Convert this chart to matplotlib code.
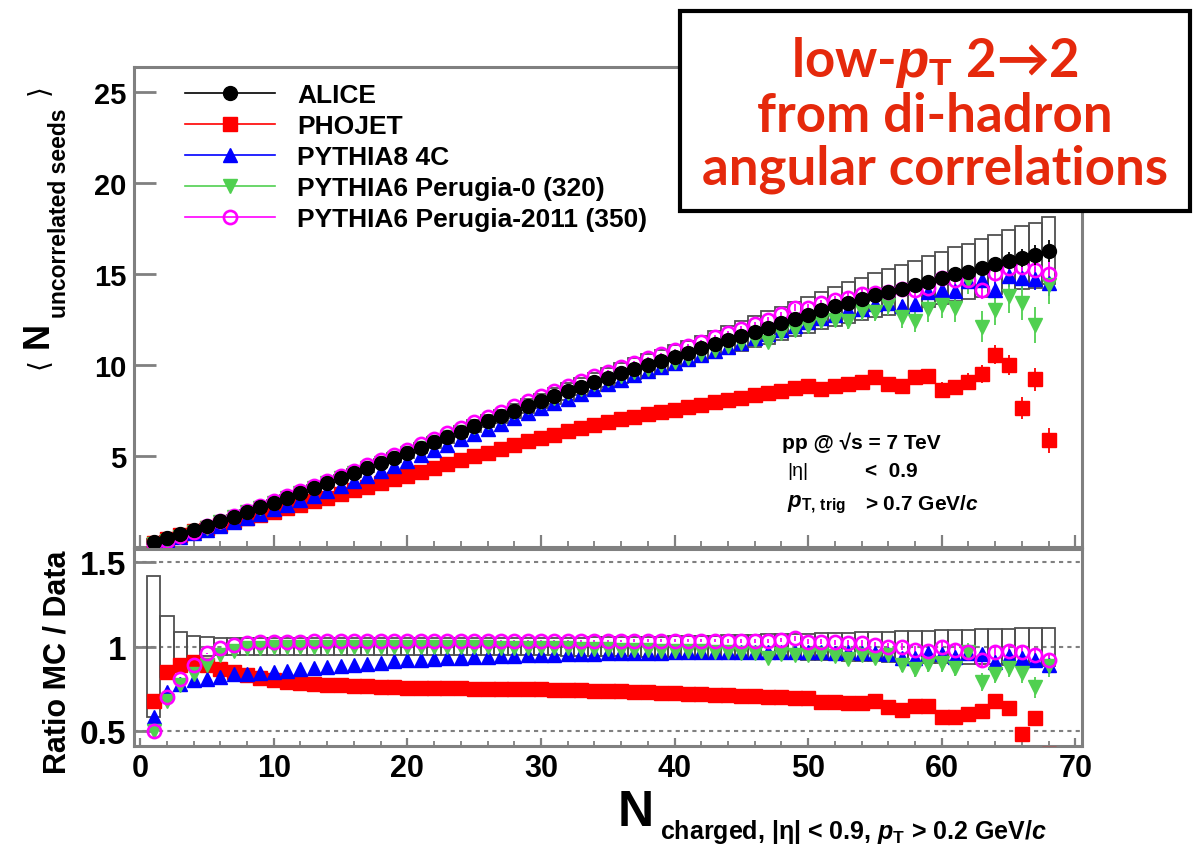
import numpy as np
import matplotlib
matplotlib.use('Agg')
import matplotlib.pyplot as plt
from matplotlib.lines import Line2D
from matplotlib.patches import Rectangle
from matplotlib.ticker import MultipleLocator, FixedLocator

plt.rcParams['font.family'] = ['Liberation Sans', 'DejaVu Sans']
plt.rcParams['font.weight'] = 'bold'
plt.rcParams['mathtext.fontset'] = 'custom'
plt.rcParams['mathtext.rm'] = 'Liberation Sans:bold'
plt.rcParams['mathtext.it'] = 'Liberation Sans:italic:bold'
plt.rcParams['mathtext.bf'] = 'Liberation Sans:bold'
plt.rcParams['mathtext.fallback'] = 'stixsans'

# ---- data ----
n_charged = np.arange(1, 69)

alice = [
    0.30, 0.50, 0.72, 0.95, 1.18, 1.42, 1.67, 1.92, 2.18, 2.44,
    2.70, 2.97, 3.24, 3.51, 3.78, 4.06, 4.34, 4.62, 4.90, 5.18,
    5.47, 5.76, 6.05, 6.34, 6.63, 6.92, 7.20, 7.48, 7.76, 8.04,
    8.30, 8.56, 8.82, 9.07, 9.32, 9.56, 9.80, 10.02, 10.24, 10.45,
    10.68, 10.92, 11.15, 11.38, 11.61, 11.84, 12.07, 12.30, 12.54, 12.78,
    13.01, 13.24, 13.44, 13.64, 13.84, 14.03, 14.20, 14.40, 14.60, 14.80,
    15.00, 15.15, 15.35, 15.55, 15.75, 15.90, 16.05, 16.30]

alice_stat = [
    0.01, 0.01, 0.01, 0.01, 0.01, 0.01, 0.01, 0.01, 0.01, 0.01,
    0.01, 0.01, 0.01, 0.01, 0.01, 0.01, 0.01, 0.01, 0.01, 0.01,
    0.02, 0.02, 0.02, 0.02, 0.02, 0.02, 0.02, 0.02, 0.02, 0.02,
    0.03, 0.03, 0.03, 0.04, 0.04, 0.04, 0.05, 0.05, 0.05, 0.06,
    0.06, 0.07, 0.07, 0.08, 0.08, 0.09, 0.10, 0.11, 0.12, 0.13,
    0.14, 0.15, 0.17, 0.18, 0.20, 0.22, 0.24, 0.26, 0.28, 0.30,
    0.33, 0.36, 0.39, 0.42, 0.46, 0.50, 0.55, 0.60]

# relative systematic uncertainty of the data
alice_sys = [
    0.42, 0.18, 0.085, 0.065, 0.055, 0.050, 0.050, 0.050, 0.050, 0.050,
    0.050, 0.050, 0.050, 0.050, 0.050, 0.050, 0.050, 0.050, 0.050, 0.050,
    0.050, 0.050, 0.050, 0.050, 0.050, 0.050, 0.050, 0.050, 0.050, 0.050,
    0.052, 0.053, 0.054, 0.055, 0.056, 0.057, 0.058, 0.059, 0.060, 0.061,
    0.062, 0.064, 0.066, 0.068, 0.070, 0.072, 0.074, 0.075, 0.076, 0.077,
    0.079, 0.081, 0.083, 0.085, 0.087, 0.089, 0.091, 0.093, 0.095, 0.097,
    0.099, 0.101, 0.103, 0.105, 0.107, 0.109, 0.111, 0.113]

# MC / data ratios
phojet = [
    0.68, 0.85, 0.89, 0.91, 0.89, 0.87, 0.85, 0.83, 0.815, 0.80,
    0.79, 0.785, 0.78, 0.775, 0.77, 0.767, 0.764, 0.761, 0.758, 0.756,
    0.755, 0.754, 0.753, 0.752, 0.751, 0.750, 0.750, 0.749, 0.748, 0.747,
    0.745, 0.743, 0.741, 0.739, 0.737, 0.735, 0.732, 0.729, 0.726, 0.723,
    0.720, 0.717, 0.714, 0.711, 0.708, 0.705, 0.702, 0.699, 0.696, 0.693,
    0.670, 0.670, 0.665, 0.665, 0.675, 0.640, 0.625, 0.650, 0.645, 0.585,
    0.585, 0.600, 0.620, 0.680, 0.635, 0.480, 0.575, 0.360]

pythia8_4c = [
    0.58, 0.73, 0.78, 0.80, 0.81, 0.82, 0.835, 0.84, 0.845, 0.85,
    0.858, 0.865, 0.872, 0.88, 0.886, 0.892, 0.898, 0.905, 0.912, 0.918,
    0.922, 0.926, 0.930, 0.934, 0.937, 0.940, 0.943, 0.946, 0.948, 0.950,
    0.952, 0.954, 0.956, 0.958, 0.960, 0.962, 0.963, 0.964, 0.965, 0.966,
    0.967, 0.967, 0.968, 0.968, 0.968, 0.969, 0.969, 0.970, 0.970, 0.970,
    0.970, 0.965, 0.970, 0.960, 0.965, 0.955, 0.935, 0.930, 0.960, 0.955,
    0.940, 0.965, 0.955, 0.910, 0.945, 0.930, 0.920, 0.890]

perugia0 = [
    0.50, 0.68, 0.77, 0.84, 0.89, 0.95, 0.975, 0.99, 0.995, 1.0,
    1.0, 1.0, 1.0, 1.0, 1.0, 1.0, 1.0, 1.0, 1.0, 1.0,
    1.0, 1.0, 0.998, 0.998, 0.997, 0.996, 0.995, 0.994, 0.993, 0.992,
    0.990, 0.990, 0.988, 0.986, 0.984, 0.982, 0.980, 0.978, 0.976, 0.975,
    0.975, 0.972, 0.970, 0.970, 0.965, 0.960, 0.935, 0.955, 0.950, 0.950,
    0.955, 0.945, 0.925, 0.950, 0.935, 0.950, 0.890, 0.865, 0.895, 0.900,
    0.875, 0.970, 0.790, 0.840, 0.875, 0.845, 0.760, 0.885]

perugia2011 = [
    0.50, 0.70, 0.81, 0.89, 0.96, 0.99, 1.01, 1.02, 1.025, 1.03,
    1.03, 1.03, 1.032, 1.032, 1.033, 1.033, 1.034, 1.034, 1.035, 1.035,
    1.035, 1.035, 1.035, 1.035, 1.035, 1.035, 1.035, 1.035, 1.035, 1.035,
    1.035, 1.035, 1.035, 1.035, 1.035, 1.035, 1.035, 1.035, 1.035, 1.035,
    1.035, 1.035, 1.035, 1.035, 1.035, 1.035, 1.035, 1.040, 1.050, 1.030,
    1.030, 1.025, 1.020, 1.020, 1.010, 1.000, 1.000, 0.980, 0.975, 1.000,
    0.980, 0.970, 0.920, 0.970, 0.975, 0.970, 0.950, 0.920]

# statistical errors of the MC, in ratio units
mc_err = [
    0.020, 0.012, 0.008, 0.006, 0.005, 0.005, 0.004, 0.004, 0.004, 0.004,
    0.004, 0.004, 0.004, 0.004, 0.004, 0.004, 0.004, 0.004, 0.004, 0.004,
    0.004, 0.004, 0.004, 0.005, 0.005, 0.005, 0.005, 0.005, 0.005, 0.006,
    0.006, 0.006, 0.006, 0.007, 0.007, 0.007, 0.008, 0.008, 0.008, 0.009,
    0.009, 0.010, 0.010, 0.011, 0.011, 0.012, 0.012, 0.013, 0.014, 0.015,
    0.016, 0.017, 0.018, 0.019, 0.020, 0.021, 0.022, 0.024, 0.025, 0.027,
    0.028, 0.030, 0.032, 0.034, 0.036, 0.038, 0.040, 0.042]

green_err = [
    0.025, 0.015, 0.010, 0.008, 0.007, 0.006, 0.006, 0.006, 0.006, 0.006,
    0.006, 0.006, 0.006, 0.006, 0.006, 0.006, 0.006, 0.006, 0.006, 0.006,
    0.006, 0.006, 0.007, 0.007, 0.007, 0.008, 0.008, 0.008, 0.009, 0.009,
    0.010, 0.010, 0.011, 0.011, 0.012, 0.013, 0.013, 0.014, 0.015, 0.016,
    0.017, 0.018, 0.019, 0.020, 0.021, 0.022, 0.024, 0.025, 0.026, 0.028,
    0.030, 0.032, 0.034, 0.036, 0.038, 0.040, 0.042, 0.044, 0.046, 0.048,
    0.050, 0.052, 0.054, 0.056, 0.058, 0.060, 0.062, 0.065]

labels = ['ALICE', 'PHOJET', 'PYTHIA8 4C', 'PYTHIA6 Perugia-0 (320)', 'PYTHIA6 Perugia-2011 (350)']

# ---- figure ----
W, H = 1193, 853
GRAY = '#808080'
RED_TXT = '#e5290c'

fig = plt.figure(figsize=(W / 100, H / 100), dpi=100)


def px(x0, y0, x1, y1):
    return [x0 / W, 1 - y1 / H, (x1 - x0) / W, (y1 - y0) / H]


ax = fig.add_axes(px(133.5, 68, 1082, 548))
axr = fig.add_axes(px(133.5, 550, 1082, 747), sharex=ax)

x = n_charged
a = np.array(alice)
sys_abs = a * np.array(alice_sys)

models = [
    (phojet, mc_err, dict(marker='s', color='#ff0000', ms=9.5, mfc='#ff0000')),
    (pythia8_4c, mc_err, dict(marker='^', color='#0000ff', ms=10, mfc='#0000ff')),
    (perugia0, green_err, dict(marker='v', color='#50d050', ms=10, mfc='#50d050')),
    (perugia2011, mc_err, dict(marker='o', color='#ff00ff', ms=9.5, mfc='none', mew=1.9)),
]

# upper panel
ax.bar(x, 2 * sys_abs, bottom=a - sys_abs, width=1.0, fill=False,
       edgecolor='#505050', linewidth=1.3, zorder=2)
for ratio, err, st in models:
    r = np.array(ratio)
    ax.errorbar(x, a * r, yerr=a * np.array(err), linestyle='none',
                ecolor=st['color'], elinewidth=1.3, capsize=0, zorder=3,
                mec=st['color'], **st)
ax.errorbar(x, a, yerr=alice_stat, fmt='o', color='black', ms=10,
            elinewidth=1.3, capsize=0, zorder=5)

# ratio panel
rel = np.array(alice_sys)
axr.bar(x, 2 * rel, bottom=1 - rel, width=1.0, fill=False,
        edgecolor='#505050', linewidth=1.3, zorder=2)
for yv in (0.5, 1.0, 1.5):
    axr.axhline(yv, color=GRAY, linestyle=(0, (2, 2)), linewidth=1.5, zorder=1)
for ratio, err, st in models:
    axr.errorbar(x, ratio, yerr=err, linestyle='none', ecolor=st['color'],
                 elinewidth=1.3, capsize=0, zorder=3, mec=st['color'], **st)

# axes styling
for axis in (ax, axr):
    for s in axis.spines.values():
        s.set_color(GRAY)
        s.set_linewidth(2.2)
    axis.set_xlim(-0.5, 70.5)
    axis.xaxis.set_major_locator(MultipleLocator(10))
    axis.xaxis.set_minor_locator(MultipleLocator(2))
    axis.tick_params(which='both', direction='in', color=GRAY, top=False, right=False)
    axis.tick_params(axis='y', which='major', length=16, width=2)
    axis.tick_params(axis='y', which='minor', left=False)

ax.set_ylim(0, 26.4)
ax.yaxis.set_major_locator(FixedLocator([5, 10, 15, 20, 25]))
ax.tick_params(axis='x', which='major', length=8.5, width=1.6, labelbottom=False)
ax.tick_params(axis='x', which='minor', length=4.5, width=1.3)
ax.tick_params(axis='y', labelsize=21, pad=5)

axr.set_ylim(0.41, 1.58)
axr.yaxis.set_major_locator(FixedLocator([0.5, 1.0, 1.5]))
axr.set_yticklabels(['0.5', '1', '1.5'])
axr.tick_params(axis='x', which='major', length=6, width=1.6, labelsize=22, pad=5)
axr.tick_params(axis='x', which='minor', length=3.5, width=1.3)
axr.tick_params(axis='y', labelsize=24, pad=5)

# legend
handles = [Line2D([], [], color='black', marker='o', ms=10, lw=1.2)]
for ratio, err, st in models:
    handles.append(Line2D([], [], lw=1.2, mec=st['color'], **st))
fig.legend(handles, labels, loc='upper left', bbox_to_anchor=(185 / W, 1 - 84 / H),
           frameon=False, fontsize=19, handlelength=3.4, handletextpad=0.85,
           labelspacing=0.27, borderpad=0, borderaxespad=0)

# annotation
fig.text(782 / W, 1 - 443 / H, 'pp @ √s = 7 TeV', fontsize=15, va='center')
fig.text(787 / W, 1 - 472 / H, '|η|', fontsize=14, weight='normal', va='center')
fig.text(865 / W, 1 - 472 / H, '<  0.9', fontsize=15, va='center')
fig.text(787 / W, 1 - 505 / H, r'$p_{\rm T,\,trig}$', fontsize=16, va='center')
fig.text(865 / W, 1 - 505 / H, r'> 0.7 GeV/$c$', fontsize=15, va='center')

# axis titles
fig.text(618 / W, 1 - 813 / H, 'N', fontsize=36, va='center', ha='left')
fig.text(660 / W, 1 - 832 / H, r'charged, |η| < 0.9, $p_{\rm T}$ > 0.2 GeV/$c$',
         fontsize=18, va='center', ha='left')

fig.text(38 / W, 1 - 335 / H, 'N', fontsize=26, rotation=90, va='center', ha='center')
fig.text(60 / W, 1 - 213 / H, 'uncorrelated seeds', fontsize=16.5, rotation=90,
         va='center', ha='center')
fig.text(38 / W, 1 - 364 / H, '⟨', fontsize=20, rotation=90, va='center', ha='center',
         family='DejaVu Sans', weight='normal')
fig.text(38 / W, 1 - 90 / H, '⟩', fontsize=20, rotation=90, va='center', ha='center',
         family='DejaVu Sans', weight='normal')

fig.text(57 / W, 1 - 662 / H, 'Ratio MC / Data', fontsize=22, rotation=90,
         va='center', ha='center')

# highlighted box
fig.add_artist(Rectangle((680 / W, 1 - 212 / H), 510 / W, 200 / H,
                         transform=fig.transFigure, facecolor='white',
                         edgecolor='black', linewidth=3, zorder=10))
box_lines = [r'low-$p_{\rm T}$ 2→2', 'from di-hadron', 'angular correlations']
for i, s in enumerate(box_lines):
    fig.text(935 / W, 1 - (63 + 53 * i) / H, s, fontsize=38, color=RED_TXT,
             family=['Lato', 'DejaVu Sans'], weight='bold', ha='center',
             va='center', zorder=11)

fig.savefig('out.png', dpi=100)
